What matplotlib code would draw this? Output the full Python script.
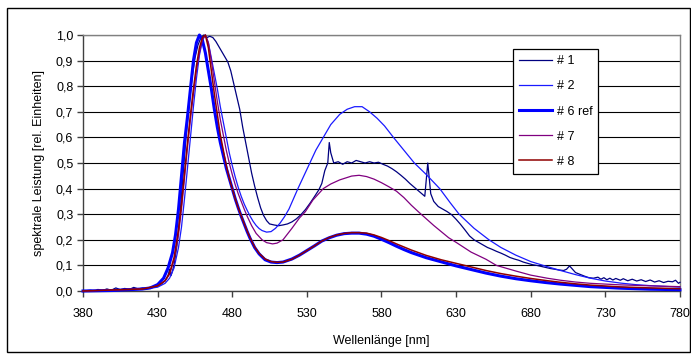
import matplotlib
matplotlib.use("Agg")
import matplotlib.pyplot as plt
from matplotlib.patches import Rectangle
from matplotlib.ticker import FuncFormatter, MultipleLocator

plt.rcParams['font.family'] = ['Liberation Sans', 'DejaVu Sans']

# ---------------- data ----------------
wl_1 = [380, 385, 388, 390, 393, 396, 399, 402, 405, 408, 411, 414, 417, 420, 423, 426, 429,
        432, 435, 437, 438, 439, 441, 443, 445, 447, 449, 451, 453, 455, 457, 459, 461, 463,
        465, 467, 469, 471, 473, 475, 477, 479, 481, 483, 485, 487, 489, 491, 493, 495, 497,
        499, 501, 503, 505, 508, 511, 514, 517, 520, 523, 526, 529, 532, 535, 538, 540, 542,
        544, 545, 546, 548, 551, 554, 557, 560, 563, 566, 569, 572, 575, 578, 581, 584, 587,
        590, 593, 596, 599, 602, 605, 608, 609, 611, 612, 613, 615, 618, 621, 624, 627, 630,
        633, 636, 639, 642, 645, 648, 651, 654, 657, 660, 663, 666, 669, 672, 675, 678, 681,
        684, 687, 690, 693, 696, 699, 702, 704, 706, 708, 710, 713, 716, 719, 722, 725, 727,
        729, 731, 733, 735, 737, 740, 742, 745, 748, 751, 754, 757, 760, 763, 766, 769, 772,
        775, 777, 779, 780]
s_1 = [0.0, 0.003, 0.0, 0.006, 0.002, 0.008, 0.003, 0.012, 0.005, 0.010, 0.006, 0.014, 0.008,
       0.012, 0.010, 0.016, 0.018, 0.025, 0.040, 0.060, 0.085, 0.060, 0.100, 0.180, 0.300,
       0.450, 0.600, 0.720, 0.830, 0.910, 0.960, 0.990, 1.000, 0.990, 0.995, 0.990, 0.975,
       0.955, 0.935, 0.915, 0.895, 0.860, 0.810, 0.760, 0.710, 0.640, 0.580, 0.520, 0.460,
       0.410, 0.365, 0.325, 0.295, 0.275, 0.262, 0.258, 0.255, 0.258, 0.262, 0.270, 0.282,
       0.298, 0.318, 0.342, 0.368, 0.395, 0.420, 0.470, 0.500, 0.580, 0.540, 0.500, 0.505,
       0.495, 0.505, 0.500, 0.510, 0.505, 0.500, 0.505, 0.500, 0.503, 0.495, 0.488, 0.478,
       0.466, 0.452, 0.437, 0.420, 0.405, 0.390, 0.375, 0.370, 0.500, 0.440, 0.380, 0.350,
       0.330, 0.320, 0.310, 0.298, 0.280, 0.260, 0.238, 0.215, 0.200, 0.190, 0.180, 0.170,
       0.163, 0.155, 0.148, 0.140, 0.131, 0.125, 0.120, 0.113, 0.108, 0.103, 0.100, 0.096,
       0.092, 0.088, 0.085, 0.082, 0.080, 0.085, 0.098, 0.085, 0.072, 0.065, 0.058, 0.052,
       0.050, 0.054, 0.046, 0.052, 0.044, 0.050, 0.043, 0.049, 0.042, 0.048, 0.040, 0.046,
       0.039, 0.044, 0.037, 0.043, 0.035, 0.040, 0.033, 0.038, 0.036, 0.042, 0.030, 0.034]

wl_2 = [380, 420, 430, 435, 438, 441, 444, 446, 448, 450, 452, 454, 456, 458, 460, 462, 464,
        466, 468, 470, 472, 474, 476, 478, 480, 482, 484, 486, 488, 490, 492, 494, 496, 498,
        500, 503, 506, 509, 512, 515, 518, 521, 524, 528, 532, 536, 541, 546, 552, 557, 562,
        567, 572, 577, 582, 588, 595, 602, 610, 619, 626, 632, 642, 652, 660, 670, 680, 690,
        700, 710, 720, 730, 740, 750, 760, 770, 780]
s_2 = [0.0, 0.006, 0.015, 0.030, 0.050, 0.090, 0.170, 0.250, 0.360, 0.480, 0.600, 0.720,
       0.830, 0.920, 0.980, 1.000, 0.970, 0.910, 0.850, 0.790, 0.720, 0.660, 0.600, 0.540,
       0.490, 0.445, 0.405, 0.370, 0.340, 0.315, 0.292, 0.272, 0.256, 0.244, 0.236, 0.230,
       0.232, 0.245, 0.265, 0.290, 0.320, 0.360, 0.400, 0.450, 0.500, 0.550, 0.600, 0.650,
       0.690, 0.710, 0.720, 0.720, 0.700, 0.675, 0.645, 0.600, 0.550, 0.500, 0.455, 0.400,
       0.345, 0.300, 0.245, 0.200, 0.170, 0.140, 0.115, 0.097, 0.080, 0.064, 0.050, 0.039,
       0.031, 0.025, 0.021, 0.018, 0.015]

wl_6 = [380, 400, 420, 425, 430, 434, 437, 440, 442, 444, 446, 448, 450, 452, 454, 456, 458,
        460, 462, 464, 466, 468, 470, 472, 474, 476, 478, 480, 482, 484, 486, 488, 490, 492,
        495, 498, 502, 506, 510, 514, 520, 525, 530, 535, 540, 545, 550, 555, 560, 565, 570,
        575, 580, 585, 590, 595, 600, 610, 620, 630, 640, 650, 660, 670, 680, 690, 700, 710,
        720, 740, 760, 780]
s_6 = [0.0, 0.002, 0.008, 0.012, 0.025, 0.050, 0.090, 0.150, 0.220, 0.320, 0.450, 0.580,
       0.680, 0.790, 0.900, 0.970, 1.000, 0.980, 0.930, 0.860, 0.790, 0.710, 0.640, 0.580,
       0.530, 0.480, 0.440, 0.400, 0.360, 0.325, 0.292, 0.262, 0.232, 0.205, 0.170, 0.145,
       0.122, 0.113, 0.111, 0.113, 0.125, 0.140, 0.158, 0.176, 0.195, 0.208, 0.218, 0.224,
       0.226, 0.226, 0.222, 0.214, 0.202, 0.189, 0.175, 0.162, 0.150, 0.130, 0.114, 0.098,
       0.084, 0.070, 0.058, 0.048, 0.040, 0.033, 0.027, 0.022, 0.017, 0.011, 0.007, 0.005]

wl_7 = [380, 420, 430, 435, 438, 441, 444, 446, 448, 450, 452, 454, 456, 458, 460, 462, 464,
        466, 468, 470, 472, 474, 476, 478, 480, 482, 484, 486, 488, 490, 493, 496, 500, 503,
        507, 510, 514, 520, 525, 529, 534, 541, 546, 552, 560, 565, 570, 575, 580, 585, 590,
        595, 600, 605, 610, 615, 620, 625, 630, 640, 650, 657, 670, 680, 691, 700, 710, 720,
        740, 760, 780]
s_7 = [0.0, 0.008, 0.020, 0.040, 0.065, 0.120, 0.220, 0.320, 0.440, 0.560, 0.670, 0.770,
       0.860, 0.930, 0.980, 1.000, 0.970, 0.900, 0.820, 0.740, 0.670, 0.610, 0.550, 0.500,
       0.455, 0.415, 0.380, 0.350, 0.320, 0.292, 0.255, 0.225, 0.200, 0.189, 0.184, 0.187,
       0.200, 0.245, 0.285, 0.310, 0.355, 0.400, 0.418, 0.434, 0.449, 0.452, 0.447, 0.437,
       0.423, 0.407, 0.390, 0.365, 0.335, 0.308, 0.282, 0.256, 0.232, 0.208, 0.190, 0.152,
       0.124, 0.100, 0.078, 0.062, 0.050, 0.042, 0.035, 0.030, 0.024, 0.020, 0.017]

wl_8 = [380, 420, 430, 435, 438, 441, 444, 446, 448, 450, 452, 454, 456, 458, 460, 462, 464,
        466, 468, 470, 472, 474, 476, 478, 480, 482, 484, 486, 488, 490, 492, 495, 498, 502,
        506, 510, 514, 520, 525, 530, 535, 540, 545, 550, 555, 560, 565, 570, 575, 580, 585,
        590, 600, 610, 620, 630, 640, 650, 660, 670, 680, 690, 700, 710, 720, 740, 760, 780]
s_8 = [0.0, 0.008, 0.020, 0.040, 0.070, 0.130, 0.240, 0.340, 0.460, 0.580, 0.690, 0.790,
       0.880, 0.950, 0.990, 1.000, 0.950, 0.860, 0.770, 0.690, 0.610, 0.550, 0.490, 0.440,
       0.400, 0.360, 0.325, 0.293, 0.263, 0.234, 0.207, 0.172, 0.147, 0.125, 0.115, 0.112,
       0.113, 0.124, 0.140, 0.158, 0.176, 0.195, 0.209, 0.219, 0.225, 0.228, 0.228, 0.226,
       0.219, 0.209, 0.197, 0.184, 0.160, 0.139, 0.122, 0.108, 0.094, 0.080, 0.068, 0.058,
       0.049, 0.041, 0.034, 0.028, 0.023, 0.016, 0.012, 0.009]

labels = ['# 1', '# 2', '# 6 ref', '# 7', '# 8']
x_ticks = [380, 430, 480, 530, 580, 630, 680, 730, 780]

# ---------------- figure ----------------
W, H = 691, 354
fig = plt.figure(figsize=(W / 100, H / 100), dpi=100)
fig.patch.set_facecolor('white')
fig.patches.append(Rectangle((7 / W, 2 / H), 683 / W, 344 / H, transform=fig.transFigure,
                             fill=False, edgecolor='black', linewidth=1.0, zorder=0))

ax = fig.add_axes([83 / W, (H - 291) / H, 597 / W, 256 / H])

series = [(wl_1, s_1, '#000080', 0.9),
          (wl_2, s_2, '#1a1aff', 0.9),
          (wl_6, s_6, '#0000ff', 2.2),
          (wl_7, s_7, '#800080', 0.9),
          (wl_8, s_8, '#900000', 1.1)]
for (x, y, c, lw), lab in zip(series, labels):
    ax.plot(x, y, color=c, linewidth=lw, label=lab, clip_on=False, zorder=3)

ax.set_xlim(380, 780)
ax.set_ylim(0, 1.0)
ax.set_xticks(x_ticks)
ax.yaxis.set_major_locator(MultipleLocator(0.1))
ax.yaxis.set_major_formatter(FuncFormatter(lambda v, p: f"{v:.1f}".replace('.', ',')))
ax.grid(axis='y', color='black', linewidth=0.8, zorder=1)
ax.set_axisbelow(True)

for side in ['top', 'right']:
    ax.spines[side].set_color('#808080')
    ax.spines[side].set_linewidth(1.0)
for side in ['left', 'bottom']:
    ax.spines[side].set_color('#404040')
    ax.spines[side].set_linewidth(1.0)
ax.tick_params(direction='out', length=4, width=1.0, color='#404040', labelsize=9,
               labelcolor='black')
ax.tick_params(axis='x', pad=8)
ax.tick_params(axis='y', pad=3)

ax.set_xlabel('Wellenlänge [nm]', fontsize=9, labelpad=11)
ax.set_ylabel('spektrale Leistung [rel. Einheiten]', fontsize=9, labelpad=8)

leg = ax.legend(loc='upper left', bbox_to_anchor=(0.720, 0.945), borderaxespad=0,
                fontsize=9, frameon=True, fancybox=False, edgecolor='black',
                framealpha=1.0, handlelength=2.6, handletextpad=0.4,
                labelspacing=1.05, borderpad=0.5)
leg.get_frame().set_linewidth(0.9)
leg.set_zorder(5)

fig.savefig('out.png', dpi=100)
